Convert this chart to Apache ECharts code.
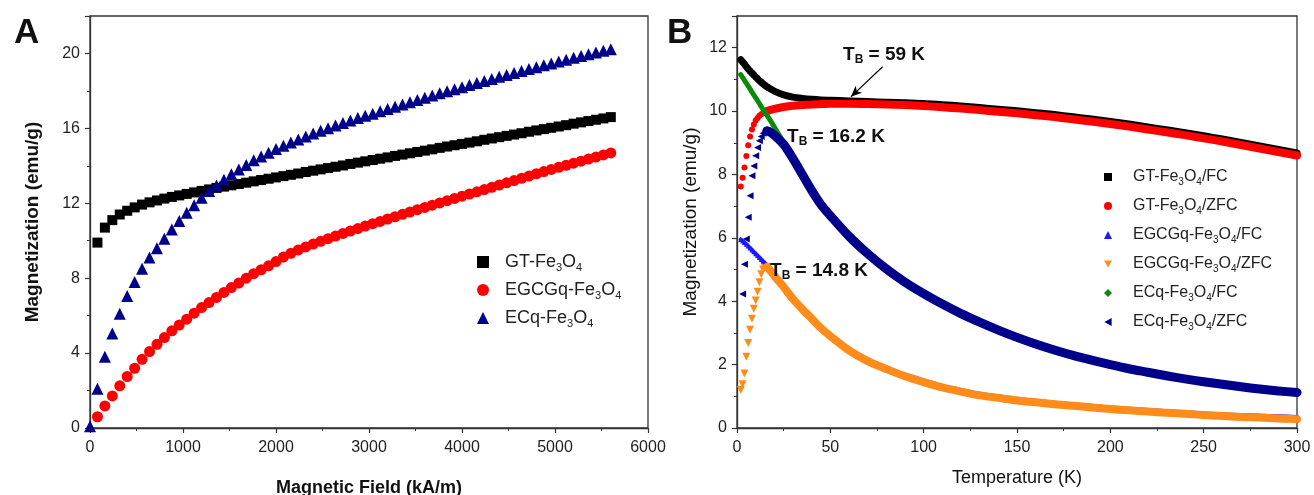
<!DOCTYPE html>
<html lang="en">
  <head>
    <meta charset="UTF-8" />
    <title>Magnetization curves</title>
    <script src="https://cdn.jsdelivr.net/npm/echarts@6.0.0/dist/echarts.min.js"></script>
    <style>
      body { margin: 0; padding: 0; background: #fff; }
      #main { width: 1314px; height: 495px; }
    </style>
  </head>
  <body>
    <div id="main"></div>
    <script>
      // ---- Panel A: M vs H ----
      const field = [0, 80, 160, 240, 320, 400, 480, 560, 640, 720, 800, 880, 960, 1040, 1120, 1200, 1280, 1360, 1440, 1520, 1600, 1680, 1760, 1840, 1920, 2000, 2080, 2160, 2240, 2320, 2400, 2480, 2560, 2640, 2720, 2800, 2880, 2960, 3040, 3120, 3200, 3280, 3360, 3440, 3520, 3600, 3680, 3760, 3840, 3920, 4000, 4080, 4160, 4240, 4320, 4400, 4480, 4560, 4640, 4720, 4800, 4880, 4960, 5040, 5120, 5200, 5280, 5360, 5440, 5520, 5600];
      const gtA = [null, 9.9, 10.7, 11.1, 11.4, 11.6, 11.78, 11.93, 12.05, 12.15, 12.25, 12.34, 12.42, 12.5, 12.58, 12.66, 12.74, 12.82, 12.89, 12.96, 13.03, 13.1, 13.17, 13.24, 13.31, 13.38, 13.45, 13.52, 13.59, 13.67, 13.74, 13.81, 13.88, 13.95, 14.02, 14.1, 14.17, 14.24, 14.31, 14.38, 14.45, 14.53, 14.6, 14.67, 14.74, 14.81, 14.88, 14.96, 15.03, 15.1, 15.17, 15.24, 15.31, 15.39, 15.46, 15.53, 15.6, 15.67, 15.74, 15.82, 15.89, 15.96, 16.03, 16.1, 16.17, 16.25, 16.32, 16.39, 16.46, 16.53, 16.6];
      const egcgA = [null, 0.6, 1.18, 1.71, 2.25, 2.75, 3.19, 3.67, 4.08, 4.47, 4.83, 5.19, 5.5, 5.81, 6.13, 6.43, 6.7, 6.97, 7.24, 7.5, 7.74, 8.0, 8.24, 8.45, 8.66, 8.89, 9.13, 9.33, 9.51, 9.67, 9.82, 9.97, 10.11, 10.25, 10.39, 10.52, 10.65, 10.78, 10.91, 11.03, 11.16, 11.28, 11.41, 11.53, 11.66, 11.78, 11.9, 12.02, 12.14, 12.26, 12.38, 12.49, 12.61, 12.73, 12.85, 12.97, 13.09, 13.21, 13.33, 13.45, 13.57, 13.69, 13.81, 13.92, 14.03, 14.14, 14.25, 14.36, 14.47, 14.58, 14.69];
      const ecqA = [0.1, 2.1, 3.8, 5.05, 6.1, 7.05, 7.8, 8.5, 9.1, 9.6, 10.1, 10.6, 11.05, 11.5, 11.9, 12.3, 12.65, 12.95, 13.25, 13.55, 13.8, 14.05, 14.3, 14.5, 14.7, 14.9, 15.07, 15.24, 15.4, 15.56, 15.72, 15.87, 16.01, 16.15, 16.29, 16.42, 16.55, 16.67, 16.78, 16.91, 17.04, 17.16, 17.28, 17.4, 17.52, 17.64, 17.75, 17.87, 17.98, 18.09, 18.2, 18.31, 18.42, 18.53, 18.64, 18.75, 18.85, 18.96, 19.06, 19.17, 19.27, 19.37, 19.47, 19.57, 19.67, 19.77, 19.87, 19.96, 20.05, 20.14, 20.23];

      // ---- Panel B: M vs T (FC / ZFC) ----
      const tempLow = [2, 3, 4, 5, 6, 7, 8, 9, 10, 11, 12, 13, 14, 15, 16];
      const tempTail = [16, 18, 20, 25, 30, 35, 40, 45, 50, 60, 70, 80, 90, 100, 110, 120, 130, 140, 150, 160, 170, 180, 190, 200, 210, 220, 230, 240, 250, 260, 270, 280, 290, 300];

      const gtFcLow = [11.62, 11.55, 11.48, 11.4, 11.33, 11.26, 11.2, 11.14, 11.08, 11.02, 10.96, 10.91, 10.86, 10.81, 10.77];
      const gtFcTail = [10.77, 10.7, 10.63, 10.51, 10.44, 10.4, 10.37, 10.35, 10.34, 10.32, 10.3, 10.28, 10.26, 10.24, 10.2, 10.16, 10.11, 10.06, 10.01, 9.95, 9.89, 9.82, 9.75, 9.67, 9.59, 9.5, 9.41, 9.32, 9.22, 9.12, 9.01, 8.9, 8.79, 8.68];
      const gtZfcLow = [7.62, 7.9, 8.22, 8.58, 8.92, 9.2, 9.42, 9.58, 9.7, 9.78, 9.85, 9.9, 9.94, 9.97, 10.0];
      const gtZfcTail = [10.0, 10.04, 10.07, 10.13, 10.17, 10.19, 10.21, 10.22, 10.23, 10.23, 10.22, 10.21, 10.19, 10.16, 10.12, 10.08, 10.03, 9.98, 9.93, 9.87, 9.81, 9.74, 9.67, 9.59, 9.51, 9.42, 9.33, 9.24, 9.14, 9.04, 8.93, 8.82, 8.71, 8.6];
      const egFcLow = [5.95, 5.9, 5.85, 5.8, 5.74, 5.68, 5.62, 5.56, 5.5, 5.44, 5.38, 5.32, 5.26, 5.2, 5.14];
      const egFcTail = [5.13, 5.0, 4.85, 4.5, 4.12, 3.8, 3.5, 3.2, 2.95, 2.5, 2.16, 1.91, 1.68, 1.5, 1.33, 1.2, 1.08, 1.0, 0.92, 0.86, 0.8, 0.75, 0.7, 0.65, 0.61, 0.57, 0.53, 0.5, 0.46, 0.43, 0.41, 0.39, 0.37, 0.35];
      const egZfcLow = [1.2, 1.38, 1.72, 2.25, 2.68, 3.1, 3.45, 3.76, 4.02, 4.3, 4.6, 4.85, 5.0, 5.06, 5.08];
      const egZfcTail = [5.08, 4.96, 4.8, 4.45, 4.07, 3.75, 3.45, 3.15, 2.9, 2.45, 2.11, 1.86, 1.63, 1.45, 1.28, 1.15, 1.03, 0.95, 0.87, 0.81, 0.75, 0.7, 0.65, 0.6, 0.56, 0.52, 0.48, 0.45, 0.41, 0.38, 0.35, 0.33, 0.3, 0.28];
      const ecFcLow = [11.15, 11.06, 10.97, 10.88, 10.79, 10.7, 10.6, 10.51, 10.42, 10.33, 10.24, 10.14, 10.05, 9.96, 9.87];
      const ecFcTail = [9.87, 9.69, 9.5, 9.0, 8.47, 7.96, 7.46, 7.01, 6.66, 6.01, 5.46, 4.98, 4.56, 4.2, 3.87, 3.57, 3.3, 3.05, 2.82, 2.61, 2.42, 2.25, 2.1, 1.96, 1.83, 1.72, 1.61, 1.51, 1.42, 1.34, 1.26, 1.19, 1.13, 1.08];
      const ecZfcLow = [null, 4.23, 5.17, 5.96, 6.65, 7.33, 7.96, 8.27, 8.59, 8.85, 9.06, 9.2, 9.3, 9.36, 9.38];
      const ecZfcTail = [9.38, 9.33, 9.24, 8.95, 8.5, 8.0, 7.5, 7.05, 6.7, 6.05, 5.5, 5.02, 4.6, 4.24, 3.91, 3.61, 3.34, 3.09, 2.86, 2.65, 2.46, 2.29, 2.14, 2.0, 1.87, 1.76, 1.65, 1.55, 1.46, 1.38, 1.3, 1.23, 1.17, 1.12];

      const namesA = ["GT-Fe3O4", "EGCGq-Fe3O4", "ECq-Fe3O4"];
      const namesB = ["GT-Fe3O4/FC", "GT-Fe3O4/ZFC", "EGCGq-Fe3O4/FC", "EGCGq-Fe3O4/ZFC", "ECq-Fe3O4/FC", "ECq-Fe3O4/ZFC"];

      const FONT = "'Liberation Sans', Arial, sans-serif";
      const TRI_DOWN = "path://M0,0 L10,0 L5,9 Z";
      const TRI_LEFT = "path://M0,5 L9,0 L9,10 Z";

      function pairs(xs, ys) {
        return xs.map((x, i) => [x, ys[i]]);
      }

      // Fe3O4 with subscripts as rich text
      function chem(name) {
        const parts = name.split("Fe3O4");
        let s = "";
        if (parts[0]) s += "{n|" + parts[0] + "}";
        s += "{n|Fe}{s|3}{n|O}{s|4}";
        if (parts[1]) s += "{n|" + parts[1] + "}";
        return s;
      }

      function axisStyle(extra) {
        return Object.assign(
          {
            axisLine: { show: true, onZero: false, lineStyle: { color: "#333", width: 1.3 } },
            axisTick: { show: true, inside: false, length: 5, lineStyle: { color: "#333", width: 1.2 } },
            minorTick: { show: true, splitNumber: 2, length: 3, lineStyle: { color: "#333", width: 1 } },
            splitLine: { show: false },
            nameLocation: "middle",
          },
          extra
        );
      }
      const tickLabel = (margin, extra) =>
        Object.assign({ color: "#222", fontSize: 16, fontFamily: FONT, margin: margin, formatter: (v) => String(v) }, extra || {});

      const chart = echarts.init(document.getElementById("main"), null, { renderer: "canvas" });

      const lowB = (name, ys, symbol, size, color) => ({
        name: name,
        type: "scatter",
        xAxisIndex: 1,
        yAxisIndex: 1,
        data: pairs(tempLow, ys),
        symbol: symbol,
        symbolSize: size,
        itemStyle: { color: color, opacity: 1 },
        silent: true,
      });
      const bandB = (name, xs, ys, width, color, extra) =>
        Object.assign(
          {
            name: name + " band",
            type: "line",
            xAxisIndex: 1,
            yAxisIndex: 1,
            data: pairs(xs, ys),
            smooth: 0.3,
            showSymbol: false,
            lineStyle: { color: color, width: width, cap: "round", join: "round" },
            itemStyle: { color: color },
            silent: true,
          },
          extra || {}
        );

      const option = {
        animation: false,
        backgroundColor: "#fff",
        grid: [
          { left: 90, top: 16, width: 558, height: 412, show: true, borderColor: "#333", borderWidth: 1.3, outerBoundsMode: "none" },
          { left: 737, top: 16, width: 560, height: 412, show: true, borderColor: "#333", borderWidth: 1.3, outerBoundsMode: "none" },
        ],
        xAxis: [
          axisStyle({
            gridIndex: 0, type: "value", min: 0, max: 6000, interval: 1000,
            name: "Magnetic Field (kA/m)", nameGap: 51,
            nameTextStyle: { fontSize: 18, fontWeight: "bold", color: "#111", fontFamily: FONT },
            axisLabel: tickLabel(12),
          }),
          axisStyle({
            gridIndex: 1, type: "value", min: 0, max: 300, interval: 50,
            name: "Temperature (K)", nameGap: 41,
            nameTextStyle: { fontSize: 18, color: "#111", fontFamily: FONT },
            axisLabel: tickLabel(12),
          }),
        ],
        yAxis: [
          axisStyle({
            gridIndex: 0, type: "value", min: 0, max: 22, interval: 4,
            name: "Magnetization (emu/g)", nameGap: 48,
            nameTextStyle: { fontSize: 19, fontWeight: "bold", color: "#111", fontFamily: FONT },
            axisLabel: tickLabel(10, { showMaxLabel: false }),
          }),
          axisStyle({
            gridIndex: 1, type: "value", min: 0, max: 13, interval: 2,
            name: "Magnetization (emu/g)", nameGap: 37,
            nameTextStyle: { fontSize: 19, color: "#111", fontFamily: FONT },
            axisLabel: tickLabel(10, { showMaxLabel: false }),
          }),
        ],
        legend: [
          {
            orient: "vertical",
            left: 472,
            top: 248,
            itemWidth: 12,
            itemHeight: 12,
            itemGap: 8,
            selectedMode: false,
            data: [
              { name: namesA[0], icon: "rect" },
              { name: namesA[1], icon: "circle" },
              { name: namesA[2], icon: "triangle" },
            ],
            formatter: chem,
            textStyle: {
              padding: [0, 0, 0, 11],
              rich: {
                n: { fontSize: 18, color: "#222", fontFamily: FONT, lineHeight: 22 },
                s: { fontSize: 11, color: "#222", fontFamily: FONT, lineHeight: 8, verticalAlign: "bottom" },
              },
            },
          },
          {
            orient: "vertical",
            left: 1099,
            top: 164,
            itemWidth: 8,
            itemHeight: 8,
            itemGap: 11,
            selectedMode: false,
            data: [
              { name: namesB[0], icon: "rect" },
              { name: namesB[1], icon: "circle" },
              { name: namesB[2], icon: "triangle" },
              { name: namesB[3], icon: TRI_DOWN },
              { name: namesB[4], icon: "diamond" },
              { name: namesB[5], icon: TRI_LEFT },
            ],
            formatter: chem,
            textStyle: {
              padding: [0, 0, 0, 16],
              rich: {
                n: { fontSize: 16, color: "#222", fontFamily: FONT, lineHeight: 20 },
                s: { fontSize: 10, color: "#222", fontFamily: FONT, lineHeight: 7, verticalAlign: "bottom" },
              },
            },
          },
        ],
        series: [
          {
            name: namesA[0], type: "scatter", xAxisIndex: 0, yAxisIndex: 0,
            data: pairs(field, gtA), symbol: "rect", symbolSize: 10,
            itemStyle: { color: "#000", opacity: 1 }, silent: true,
          },
          {
            name: namesA[1], type: "scatter", xAxisIndex: 0, yAxisIndex: 0,
            data: pairs(field, egcgA), symbol: "circle", symbolSize: 11,
            itemStyle: { color: "#ff0000", opacity: 1 }, silent: true,
          },
          {
            name: namesA[2], type: "scatter", xAxisIndex: 0, yAxisIndex: 0,
            data: pairs(field, ecqA), symbol: "triangle", symbolSize: 12,
            itemStyle: { color: "#00008b", opacity: 1 }, silent: true,
          },

          lowB(namesB[0], gtFcLow, "rect", 5, "#000"),
          bandB(namesB[0], tempLow.concat(tempTail.slice(1)), gtFcLow.concat(gtFcTail.slice(1)), 7, "#000", {
            markLine: {
              silent: true,
              symbol: ["none", "arrow"],
              symbolSize: [7, 11],
              label: { show: false },
              lineStyle: { color: "#000", width: 1.2, type: "solid" },
              data: [[{ coord: [78, 11.4] }, { coord: [61, 10.45] }]],
            },
          }),
          lowB(namesB[1], gtZfcLow, "circle", 6, "#ff0000"),
          bandB(namesB[1], tempTail, gtZfcTail, 8, "#ff0000"),
          lowB(namesB[2], egFcLow, "triangle", 5, "#1a1aff"),
          bandB(namesB[2], tempLow.concat(tempTail.slice(1)), egFcLow.concat(egFcTail.slice(1)), 4, "#1a1aff"),
          lowB(namesB[3], egZfcLow, TRI_DOWN, 8, "#ff8c1a"),
          bandB(namesB[3], tempTail, egZfcTail, 8, "#ff8c1a"),
          lowB(namesB[4], ecFcLow, "diamond", 5, "#0a8a0a"),
          bandB(namesB[4], tempLow.concat(tempTail.slice(1)), ecFcLow.concat(ecFcTail.slice(1)), 5, "#0a8a0a"),
          lowB(namesB[5], ecZfcLow, TRI_LEFT, 7, "#00008b"),
          bandB(namesB[5], tempTail, ecZfcTail, 9, "#00008b"),
        ],
      };

      chart.setOption(option);

      // Blocking temperature labels, anchored to data coordinates of panel B
      const tbNotes = [
        { t: 56.8, m: 11.77, text: " = 59 K" },
        { t: 26.8, m: 9.18, text: " = 16.2 K" },
        { t: 17.7, m: 4.97, text: " = 14.8 K" },
      ];
      const richTB = {
        t: { fontSize: 19, fontWeight: "bold", fill: "#111", fontFamily: FONT, lineHeight: 22 },
        b: { fontSize: 12, fontWeight: "bold", fill: "#111", fontFamily: FONT, lineHeight: 8, verticalAlign: "bottom" },
      };
      const graphics = tbNotes.map((n) => {
        const p = chart.convertToPixel({ xAxisIndex: 1, yAxisIndex: 1 }, [n.t, n.m]);
        return {
          type: "text",
          x: p[0],
          y: p[1],
          z: 100,
          style: {
            text: "{t|T}{b|B}{t|" + n.text + "}",
            rich: richTB,
            verticalAlign: "middle",
            align: "left",
          },
        };
      });
      graphics.push(
        { type: "text", left: 14, top: 16, style: { text: "A", fontSize: 35, fontWeight: "bold", fill: "#111", fontFamily: FONT } },
        { type: "text", left: 667, top: 16, style: { text: "B", fontSize: 35, fontWeight: "bold", fill: "#111", fontFamily: FONT } }
      );
      chart.setOption({ graphic: graphics });
    </script>
  </body>
</html>
